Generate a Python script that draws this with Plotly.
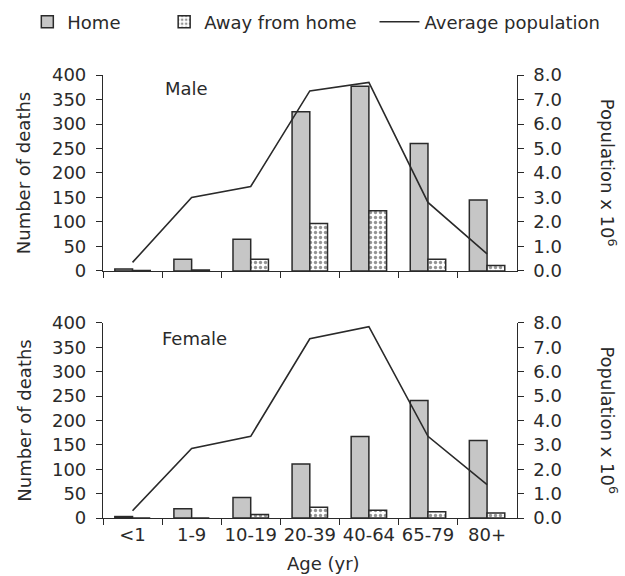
import plotly.graph_objects as go
from plotly.subplots import make_subplots

age_groups = ["<1", "1-9", "10-19", "20-39", "40-64", "65-79", "80+"]

male_home = [4, 24, 65, 325, 377, 260, 145]
male_away = [1, 2, 24, 97, 123, 24, 11]
male_pop = [0.35, 3.0, 3.45, 7.35, 7.7, 2.8, 0.7]

female_home = [3, 19, 42, 111, 167, 241, 159]
female_away = [0, 0, 7, 22, 16, 13, 10]
female_pop = [0.3, 2.85, 3.35, 7.35, 7.85, 3.35, 1.37]

FONT = "DejaVu Sans"
INK = "#2a2a2a"
HOME_FILL = "#c6c6c6"

fig = make_subplots(rows=2, cols=1,
                    specs=[[{"secondary_y": True}], [{"secondary_y": True}]],
                    vertical_spacing=0.1)

panels = [(1, male_home, male_away, male_pop), (2, female_home, female_away, female_pop)]
for row, home, away, pop in panels:
    first = row == 1
    fig.add_trace(go.Bar(x=age_groups, y=home, name="Home", showlegend=first,
                         legend="legend",
                         marker=dict(color=HOME_FILL, line=dict(color=INK, width=1.5))),
                  row=row, col=1, secondary_y=False)
    fig.add_trace(go.Bar(x=age_groups, y=away, name="Away from home", showlegend=first,
                         legend="legend2",
                         marker=dict(color="white", line=dict(color=INK, width=1.5),
                                     pattern=dict(shape=".", fgcolor=INK, bgcolor="white",
                                                  size=5, solidity=0.35))),
                  row=row, col=1, secondary_y=False)
    fig.add_trace(go.Scatter(x=age_groups, y=pop, name="Average population", mode="lines",
                             showlegend=first, legend="legend3",
                             line=dict(color=INK, width=1.6)),
                  row=row, col=1, secondary_y=True)

axis_common = dict(showline=True, linecolor=INK, linewidth=1.2, ticks="outside",
                   tickcolor=INK, ticklen=6, tickwidth=1.2, showgrid=False, zeroline=False,
                   tickfont=dict(family=FONT, size=18, color=INK))

top_dom = [0.5576, 1.0]
bot_dom = [0.0, 0.4402]

legend_common = dict(orientation="h", xanchor="left", y=1.1196, yanchor="middle",
                     font=dict(family=FONT, size=18, color=INK),
                     bgcolor="rgba(0,0,0,0)", borderwidth=0)

fig.update_layout(
    width=625, height=576,
    margin=dict(l=103, r=82, t=75, b=58, autoexpand=False),
    paper_bgcolor="white", plot_bgcolor="white",
    barmode="group", bargap=0.4, bargroupgap=0,
    font=dict(family=FONT, size=18, color=INK),
    showlegend=True,
    legend=dict(**legend_common, x=-0.172),
    legend2=dict(**legend_common, x=0.139),
    legend3=dict(**legend_common, x=0.617, itemwidth=40),
)

fig.update_layout(
    xaxis=dict(**axis_common, tickson="boundaries", showticklabels=False, anchor="y"),
    xaxis2=dict(**axis_common, tickson="boundaries", anchor="y3", tickangle=0),
    yaxis=dict(**axis_common, range=[0, 400], dtick=50, domain=top_dom,
               ticklabelstandoff=6),
    yaxis2=dict(**axis_common, range=[0, 8], dtick=1, tickformat=".1f", domain=top_dom,
                side="right", overlaying="y", ticklabelstandoff=6),
    yaxis3=dict(**axis_common, range=[0, 400], dtick=50, domain=bot_dom,
                ticklabelstandoff=6),
    yaxis4=dict(**axis_common, range=[0, 8], dtick=1, tickformat=".1f", domain=bot_dom,
                side="right", overlaying="y3", ticklabelstandoff=6),
)

# Axis titles and panel labels
ann = []
for dom in (top_dom, bot_dom):
    mid = (dom[0] + dom[1]) / 2
    ann.append(dict(text="Number of deaths", xref="paper", yref="paper", x=-0.179, y=mid,
                    xanchor="center", yanchor="middle", textangle=-90, showarrow=False,
                    font=dict(family=FONT, size=18, color=INK)))
    ann.append(dict(text="Population x 10<sup>6</sup>", xref="paper", yref="paper",
                    x=1.148, y=mid, xanchor="center", yanchor="middle", textangle=90,
                    showarrow=False, font=dict(family=FONT, size=18, color=INK)))
ann.append(dict(text="Male", xref="paper", yref="paper", x=0.19, y=0.97,
                xanchor="center", yanchor="middle", showarrow=False,
                font=dict(family=FONT, size=18, color=INK)))
ann.append(dict(text="Female", xref="paper", yref="paper", x=0.207, y=0.405,
                xanchor="center", yanchor="middle", showarrow=False,
                font=dict(family=FONT, size=18, color=INK)))
ann.append(dict(text="Age (yr)", xref="paper", yref="paper", x=0.5, y=-0.1016,
                xanchor="center", yanchor="middle", showarrow=False,
                font=dict(family=FONT, size=18, color=INK)))
fig.update_layout(annotations=ann)

fig.write_html("out.html")
